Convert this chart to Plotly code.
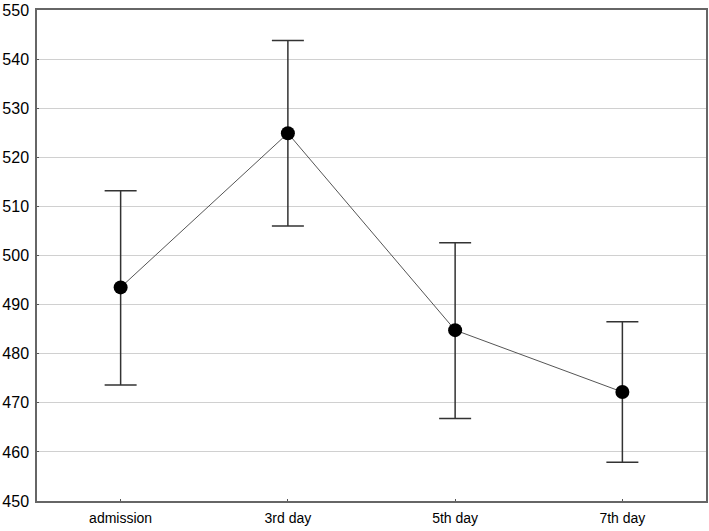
import plotly.graph_objects as go

categories = ["admission", "3rd day", "5th day", "7th day"]
means = [493.5, 524.9, 484.8, 472.2]
upper = [513.2, 543.8, 502.6, 486.5]
lower = [473.6, 506.0, 466.8, 457.9]

err_plus = [u - m for u, m in zip(upper, means)]
err_minus = [m - l for m, l in zip(means, lower)]

fig = go.Figure()
fig.add_trace(go.Scatter(
    x=categories, y=means, mode="lines+markers",
    line=dict(color="#555555", width=1),
    marker=dict(color="black", size=14),
    error_y=dict(type="data", symmetric=False, array=err_plus, arrayminus=err_minus,
                 color="#333333", thickness=1.5, width=16),
    showlegend=False,
))

fig.update_layout(
    width=709, height=531,
    margin=dict(l=37, r=3, t=10, b=30),
    paper_bgcolor="white", plot_bgcolor="white",
    font=dict(family="Liberation Sans, Arial, sans-serif", size=13, color="black"),
)
fig.update_xaxes(range=[-0.5, 3.5], showgrid=False, showline=True, mirror=True,
                 linecolor="#666666", linewidth=1.5, ticks="inside", ticklen=2,
                 tickcolor="#555555", tickfont=dict(size=14), automargin=False,
                 ticklabelstandoff=3)
fig.update_yaxes(range=[450, 550], dtick=10, showgrid=True, gridcolor="#d0d0d0", gridwidth=1,
                 showline=True, mirror=True, linecolor="#666666", linewidth=1.5,
                 ticks="inside", ticklen=2, tickcolor="#555555", tickfont=dict(size=16),
                 zeroline=False, automargin=False, ticklabelstandoff=3)

fig.write_html("out.html", config={"displayModeBar": False},
               post_script="document.body.style.margin='0';")
